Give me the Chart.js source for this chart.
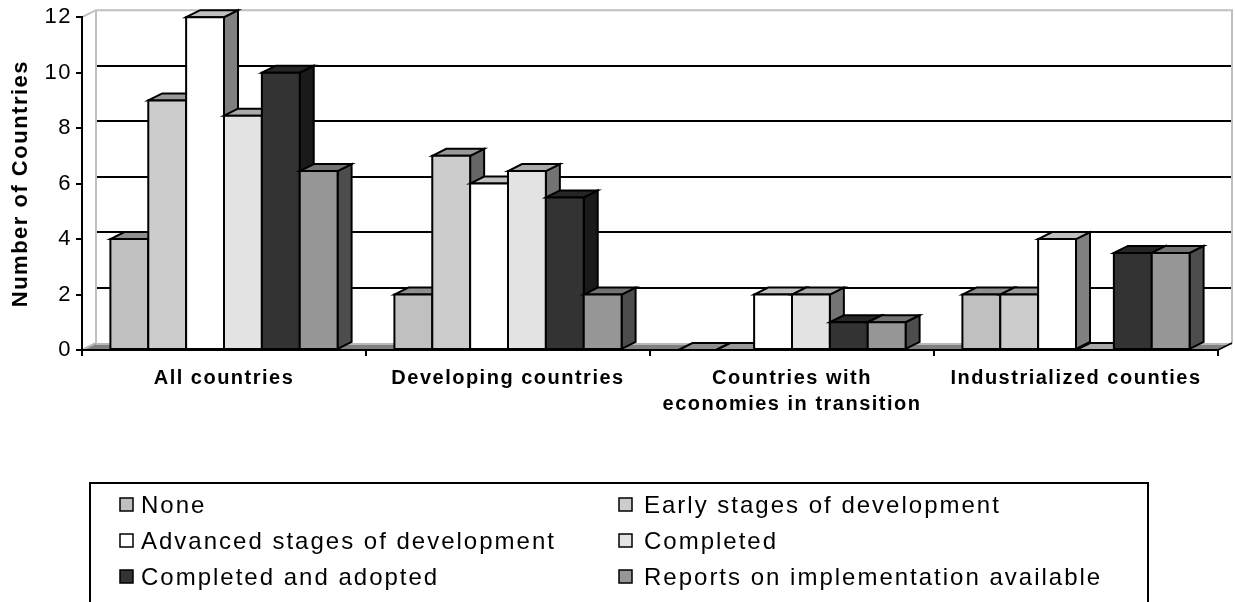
<!DOCTYPE html>
<html><head><meta charset="utf-8">
<script src="https://cdn.jsdelivr.net/npm/chart.js@4/dist/chart.umd.min.js"></script>
<style>html,body{margin:0;padding:0;background:#fff;overflow:hidden}</style>
</head><body>
<canvas id="c" width="1235" height="602"></canvas>
<script>
// ---- data ----
const categories = ['All countries', 'Developing countries', ['Countries with', 'economies in transition'], 'Industrialized counties'];
const seriesNames = ['None', 'Early stages of development', 'Advanced stages of development', 'Completed', 'Completed and adopted', 'Reports on implementation available'];
const noneVals      = [4, 2, 0, 2];
const earlyVals     = [9, 7, 0, 2];
const advancedVals  = [12, 6, 2, 4];
const completedVals = [8.45, 6.45, 2, 0];
const adoptedVals   = [10, 5.5, 1, 3.5];
const reportsVals   = [6.45, 2, 1, 3.5];
const yTicks = [0, 2, 4, 6, 8, 10, 12];

// ---- styles ----
const FONT = '"Liberation Sans", Arial, sans-serif';
const frontColors = ['#c0c0c0', '#cccccc', '#ffffff', '#e3e3e3', '#333333', '#969696'];
const topColors   = ['#8f8f8f', '#999999', '#c0c0c0', '#aaaaaa', '#262626', '#737373'];
const sideColors  = ['#606060', '#666666', '#808080', '#737373', '#1a1a1a', '#4d4d4d'];
const DX = 14, DY = -7;

const seriesValues = [noneVals, earlyVals, advancedVals, completedVals, adoptedVals, reportsVals];

const wallsPlugin = {
  id: 'walls',
  beforeDraw(chart) {
    const ctx = chart.ctx;
    ctx.letterSpacing = '1.5px';
    const a = chart.chartArea, y = chart.scales.y;
    const L = a.left, R = a.right, T = y.getPixelForValue(12), B = y.getPixelForValue(0);
    ctx.save();
    ctx.fillStyle = '#ffffff';
    ctx.fillRect(L + DX, T + DY, R - L, B - T);
    // floor
    ctx.beginPath();
    ctx.moveTo(L, B); ctx.lineTo(R, B); ctx.lineTo(R + DX, B + DY); ctx.lineTo(L + DX, B + DY); ctx.closePath();
    ctx.fillStyle = '#808080'; ctx.fill();
    ctx.strokeStyle = '#b8b8b8'; ctx.lineWidth = 2;
    ctx.beginPath(); ctx.moveTo(L + DX, B + DY + 1); ctx.lineTo(R + DX, B + DY + 1); ctx.stroke();
    ctx.beginPath(); ctx.moveTo(L, B); ctx.lineTo(L + DX, B + DY); ctx.stroke();
    // gridlines on back wall
    ctx.strokeStyle = '#000'; ctx.lineWidth = 2;
    yTicks.forEach(v => {
      if (v === 0 || v === 12) return;
      const py = Math.round(y.getPixelForValue(v) + DY);
      ctx.beginPath(); ctx.moveTo(L + DX, py); ctx.lineTo(R + DX, py); ctx.stroke();
    });
    // wall edges (grey)
    ctx.strokeStyle = '#c0c0c0'; ctx.lineWidth = 2;
    ctx.beginPath();
    ctx.moveTo(L, T); ctx.lineTo(L + DX, T + DY); ctx.lineTo(R + DX, T + DY); ctx.lineTo(R + DX, B + DY);
    ctx.moveTo(L + DX, T + DY); ctx.lineTo(L + DX, B + DY);
    ctx.stroke();
    ctx.strokeStyle = '#000'; ctx.lineWidth = 1.5;
    ctx.beginPath(); ctx.moveTo(R, B); ctx.lineTo(R + DX, B + DY); ctx.stroke();
    ctx.restore();
  }
};

const bars3dPlugin = {
  id: 'bars3d',
  beforeDatasetsDraw(chart) {
    const ctx = chart.ctx;
    ctx.save();
    ctx.lineWidth = 2; ctx.strokeStyle = '#000'; ctx.lineJoin = 'miter';
    const n = chart.data.labels.length;
    for (let i = 0; i < n; i++) {
      chart.data.datasets.forEach((ds, j) => {
        const el = chart.getDatasetMeta(j).data[i];
        const p = el.getProps(['x', 'y', 'width', 'base'], true);
        const l = p.x - p.width / 2, r = p.x + p.width / 2, t = p.y, b = p.base;
        ctx.beginPath();
        ctx.moveTo(r, t); ctx.lineTo(r + DX, t + DY); ctx.lineTo(r + DX, b + DY); ctx.lineTo(r, b); ctx.closePath();
        ctx.fillStyle = sideColors[j]; ctx.fill(); ctx.stroke();
        ctx.beginPath();
        ctx.moveTo(l, t); ctx.lineTo(l + DX, t + DY); ctx.lineTo(r + DX, t + DY); ctx.lineTo(r, t); ctx.closePath();
        ctx.fillStyle = topColors[j]; ctx.fill(); ctx.stroke();
        if (b - t > 0.5) {
          ctx.beginPath(); ctx.rect(l, t, r - l, b - t);
          ctx.fillStyle = frontColors[j]; ctx.fill(); ctx.stroke();
        }
      });
    }
    ctx.restore();
    return false;
  }
};

const legendPlugin = {
  id: 'boxLegend',
  afterDraw(chart) {
    const ctx = chart.ctx;
    ctx.save();
    const bx = 90, by = 483, bw = 1058, bh = 140;
    ctx.strokeStyle = '#000'; ctx.lineWidth = 2;
    ctx.strokeRect(bx, by, bw, bh);
    ctx.font = '24px ' + FONT;
    ctx.letterSpacing = '2px';
    ctx.textBaseline = 'middle'; ctx.textAlign = 'left'; ctx.fillStyle = '#000';
    const colX = [120, 619], rowY = [505, 541, 577];
    chart.data.datasets.forEach((ds, k) => {
      const cx = colX[k % 2], cy = rowY[Math.floor(k / 2)];
      ctx.fillStyle = ds.backgroundColor;
      ctx.fillRect(cx, cy - 7, 13, 13);
      ctx.lineWidth = 1.5; ctx.strokeStyle = '#000';
      ctx.strokeRect(cx, cy - 7, 13, 13);
      ctx.fillStyle = '#000';
      ctx.fillText(ds.label, cx + (k % 2 ? 25 : 21), cy + 1);
    });
    ctx.restore();
  }
};

new Chart(document.getElementById('c'), {
  type: 'bar',
  data: {
    labels: categories,
    datasets: seriesNames.map((name, j) => ({
      label: name,
      data: seriesValues[j],
      backgroundColor: frontColors[j],
      borderColor: '#000',
      borderWidth: 2
    }))
  },
  options: {
    responsive: false,
    animation: false,
    devicePixelRatio: 1,
    categoryPercentage: 0.8,
    barPercentage: 1.0,
    layout: { padding: { left: 0, top: 16, right: 17, bottom: 0 } },
    plugins: { legend: { display: false }, tooltip: { enabled: false } },
    scales: {
      x: {
        grid: { display: true, drawOnChartArea: false, drawTicks: true, tickLength: 6, color: '#000', lineWidth: 2, offset: true },
        border: { display: true, color: '#000', width: 2 },
        ticks: { color: '#000', font: { family: FONT, size: 20, weight: 'bold', lineHeight: 1.3 }, padding: 9, maxRotation: 0, autoSkip: false },
        afterFit(s) { s.height = 252; }
      },
      y: {
        min: 0, max: 12,
        afterBuildTicks(s) { s.ticks = yTicks.map(v => ({ value: v })); },
        grid: { display: true, drawOnChartArea: false, drawTicks: true, tickLength: 6, color: '#000', lineWidth: 2 },
        border: { display: true, color: '#000', width: 2 },
        ticks: { color: '#000', font: { family: FONT, size: 22 }, padding: 4 },
        title: { display: true, text: 'Number of Countries', color: '#000', font: { family: FONT, size: 22, weight: 'bold' }, padding: { top: 8, bottom: 0 } },
        afterFit(s) { s.width = 82; }
      }
    }
  },
  plugins: [wallsPlugin, bars3dPlugin, legendPlugin]
});
</script>
</body></html>
